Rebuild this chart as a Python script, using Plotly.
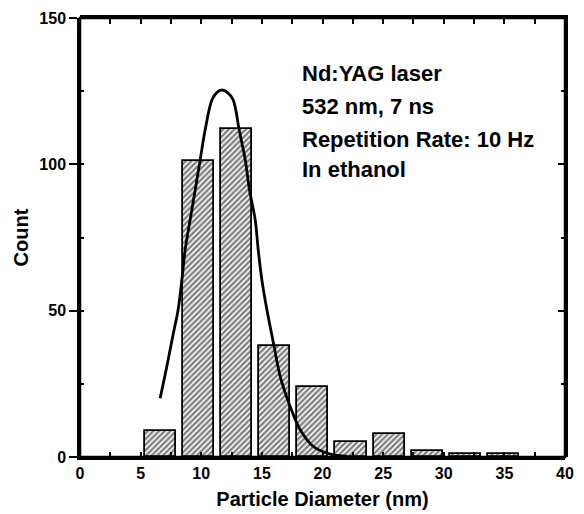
import plotly.graph_objects as go

# Histogram data
bin_centers = [6.6, 9.75, 12.9, 16.05, 19.2, 22.35, 25.5, 28.65, 31.8, 34.95]
counts = [9, 101, 112, 38, 24, 5, 8, 2, 1, 1]

# Fitted curve
fit_x = [6.61, 7.16, 7.70, 8.09, 8.40, 8.67, 9.08, 9.50, 9.91, 10.32, 10.88, 11.30, 11.70, 12.15, 12.63,
         13.13, 13.63, 13.98, 14.45, 14.70, 15.00, 15.42, 15.96, 16.52, 17.34, 18.17, 19.27, 20.65, 22.0]
fit_y = [20.1, 30.9, 42.3, 50.2, 60.5, 70.7, 81.0, 91.2, 101.5, 111.7, 122.0, 124.6, 125.4, 124.6, 122.0,
         111.7, 101.5, 91.2, 81.0, 70.7, 60.5, 50.2, 38.8, 27.4, 17.2, 9.2, 3.5, 1.0, 0.3]

notes = ["Nd:YAG laser", "532 nm, 7 ns", "Repetition Rate: 10 Hz", "In ethanol"]
note_y = [130.9, 119.7, 108.6, 98.1]

x_ticks = [0, 5, 10, 15, 20, 25, 30, 35, 40]
y_ticks = [0, 50, 100, 150]

FONT = "Liberation Sans, Arial, sans-serif"

fig = go.Figure()
fig.add_trace(go.Bar(
    x=bin_centers, y=counts, width=2.56,
    marker=dict(color="white", line=dict(color="black", width=1.8),
                pattern=dict(shape="/", fgcolor="black", bgcolor="white", size=4, solidity=0.6)),
    showlegend=False, hoverinfo="skip"))
fig.add_trace(go.Scatter(
    x=fit_x, y=fit_y, mode="lines", xaxis="x2", yaxis="y2",
    line=dict(color="black", width=2.8, shape="spline", smoothing=1.0),
    showlegend=False))

for t, yy in zip(notes, note_y):
    fig.add_annotation(x=18.17, y=yy, xref="x", yref="y", text=f"<b>{t}</b>", showarrow=False,
                       xanchor="left", yanchor="middle", font=dict(family=FONT, size=22, color="black"))

# plot frame
fig.add_shape(type="rect", xref="paper", yref="paper", x0=0, x1=1, y0=0, y1=1,
              line=dict(color="black", width=2.5), fillcolor="rgba(0,0,0,0)", layer="above")

axis_common = dict(showgrid=False, zeroline=False,
                   showline=True, linewidth=2.5, linecolor="black")

fig.update_layout(
    width=584, height=514,
    margin=dict(l=80, r=19, t=18, b=57, autoexpand=False),
    paper_bgcolor="white", plot_bgcolor="rgba(0,0,0,0)",
    font=dict(family=FONT, color="black"),
    bargap=0,
    xaxis=dict(range=[0, 40], anchor="y", side="bottom", tickmode="array", tickvals=x_ticks,
               ticktext=["<b>%d</b>" % v for v in x_ticks],
               ticks="", tickfont=dict(size=16, family=FONT),
               minor=dict(tick0=0, dtick=2.5, ticks="inside", ticklen=5, tickwidth=2, tickcolor="black"),
               title=dict(text="<b>Particle Diameter (nm)</b>", font=dict(size=20, family=FONT), standoff=12),
               **axis_common),
    yaxis=dict(range=[0, 150], anchor="x", side="left", tickmode="array", tickvals=y_ticks,
               ticktext=["<b>%d</b>" % v for v in y_ticks],
               ticks="outside", ticklen=8, tickwidth=2, tickcolor="black",
               tickfont=dict(size=16, family=FONT),
               minor=dict(tick0=0, dtick=25, ticks="inside", ticklen=4, tickwidth=2, tickcolor="black"),
               title=dict(text="<b>Count</b>", font=dict(size=20, family=FONT), standoff=6),
               **axis_common),
    xaxis2=dict(range=[0, 40], side="top", anchor="y2", tickmode="linear", tick0=0, dtick=2.5,
                ticks="inside", ticklen=6, tickwidth=2, tickcolor="black", showticklabels=False,
                **axis_common),
    yaxis2=dict(range=[0, 150], side="right", anchor="x2", tickmode="linear", tick0=0, dtick=50,
                ticks="inside", ticklen=7, tickwidth=2, tickcolor="black",
                showticklabels=False,
                minor=dict(tick0=0, dtick=25, ticks="inside", ticklen=4, tickwidth=2, tickcolor="black"),
                **axis_common),
)

fig.write_html("out.html")
